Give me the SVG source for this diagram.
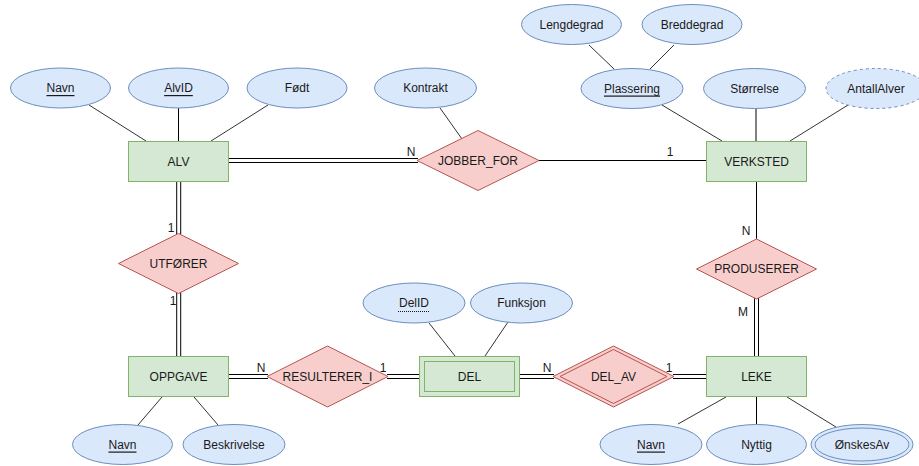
<svg xmlns="http://www.w3.org/2000/svg" width="919" height="466" viewBox="0 0 919 466">
<style>
.ent{fill:#d5e8d4;stroke:#82b366;stroke-width:1}
.attr{fill:#dae8fc;stroke:#6c8ebf;stroke-width:1}
.rel{fill:#f8cecc;stroke:#b85450;stroke-width:1}
.ln{stroke:#000;stroke-width:1;fill:none}
.al{stroke:#333;stroke-width:1;fill:none}
.dbo{stroke:#000;stroke-width:5;fill:none}
.dbi{stroke:#fff;stroke-width:3;fill:none}
text{font-family:"Liberation Sans",Arial,sans-serif;font-size:12px;fill:#1a1a1a;text-anchor:middle;dominant-baseline:central}
.ul{text-decoration:underline}
</style>
<rect width="919" height="466" fill="#fff"/>
<g id="connectors">
<line class="al" x1="89" y1="105" x2="146" y2="141"/>
<line class="ln" x1="178.5" y1="108" x2="178.5" y2="141"/>
<line class="al" x1="268" y1="105" x2="211" y2="141"/>
<line class="al" x1="440" y1="108" x2="462" y2="139"/>
<line class="al" x1="589" y1="45" x2="614" y2="69"/>
<line class="al" x1="674" y1="45" x2="650" y2="69"/>
<line class="al" x1="662" y1="105" x2="722" y2="141"/>
<line class="ln" x1="756" y1="108" x2="756" y2="141"/>
<line class="al" x1="848" y1="105" x2="790" y2="141"/>
<line class="ln" x1="539" y1="160.5" x2="706" y2="160.5"/>
<line class="dbo" x1="229" y1="160.5" x2="418" y2="160.5"/>
<line class="dbi" x1="228" y1="160.5" x2="419" y2="160.5"/>
<line class="dbo" x1="178.7" y1="182" x2="178.7" y2="234"/>
<line class="dbi" x1="178.7" y1="181" x2="178.7" y2="236"/>
<line class="dbo" x1="178.7" y1="293" x2="178.7" y2="356"/>
<line class="dbi" x1="178.7" y1="291" x2="178.7" y2="357"/>
<line class="ln" x1="756.5" y1="182" x2="756.5" y2="239"/>
<line class="dbo" x1="756.5" y1="298" x2="756.5" y2="356"/>
<line class="dbi" x1="756.5" y1="296" x2="756.5" y2="357"/>
<line class="dbo" x1="229" y1="376.5" x2="268" y2="376.5"/>
<line class="dbi" x1="228" y1="376.5" x2="270" y2="376.5"/>
<line class="dbo" x1="387" y1="376.5" x2="419" y2="376.5"/>
<line class="dbi" x1="385" y1="376.5" x2="420" y2="376.5"/>
<line class="dbo" x1="520" y1="376.5" x2="554" y2="376.5"/>
<line class="dbi" x1="519" y1="376.5" x2="556" y2="376.5"/>
<line class="dbo" x1="673" y1="376.5" x2="706" y2="376.5"/>
<line class="dbi" x1="671" y1="376.5" x2="707" y2="376.5"/>
<line class="al" x1="429" y1="323" x2="455" y2="356"/>
<line class="al" x1="508" y1="322" x2="485" y2="356"/>
<line class="al" x1="138" y1="425" x2="162" y2="397"/>
<line class="al" x1="218" y1="425" x2="194" y2="397"/>
<line class="al" x1="678" y1="424" x2="726" y2="397"/>
<line class="ln" x1="756.5" y1="424" x2="756.5" y2="397"/>
<line class="al" x1="836" y1="427" x2="787" y2="397"/>
<text x="411" y="152">N</text>
<text x="670" y="152">1</text>
<text x="171" y="228">1</text>
<text x="173" y="301">1</text>
<text x="746" y="231">N</text>
<text x="743" y="312">M</text>
<text x="261" y="368">N</text>
<text x="383" y="368">1</text>
<text x="547" y="368">N</text>
<text x="669" y="368">1</text>
</g>
<g id="ALV"><rect class="ent" x="128.5" y="141.5" width="100" height="40"/><text x="178.5" y="161.5">ALV</text></g>
<g id="VERKSTED"><rect class="ent" x="706.5" y="141.5" width="100" height="40"/><text x="756.5" y="161.5">VERKSTED</text></g>
<g id="OPPGAVE"><rect class="ent" x="128.5" y="356.5" width="100" height="40"/><text x="178.5" y="376.5">OPPGAVE</text></g>
<g id="DEL"><rect class="ent" x="419.5" y="356.5" width="100" height="40"/><rect class="ent" x="424.5" y="361.5" width="90" height="30"/><text x="469.5" y="376.5">DEL</text></g>
<g id="LEKE"><rect class="ent" x="706.5" y="356.5" width="100" height="40"/><text x="756.5" y="376.5">LEKE</text></g>
<g id="JOBBER_FOR"><polygon class="rel" points="417,160.5 478,130.5 539,160.5 478,190.5"/><text x="478" y="160.5">JOBBER_FOR</text></g>
<g id="UTFORER"><polygon class="rel" points="118.5,263.5 178.5,233.5 238.5,263.5 178.5,293.5"/><text x="178.5" y="263.5">UTFØRER</text></g>
<g id="PRODUSERER"><polygon class="rel" points="696.5,269 756.5,239 816.5,269 756.5,299"/><text x="756.5" y="269">PRODUSERER</text></g>
<g id="RESULTERER_I"><polygon class="rel" points="267,376.5 327.5,346 388,376.5 327.5,407"/><text x="327.5" y="376.5">RESULTERER_I</text></g>
<g id="DEL_AV"><polygon class="rel" points="553,376.5 613.5,346 674,376.5 613.5,407"/><polygon class="rel" points="560,376.5 613.5,349.5 667,376.5 613.5,403.5"/><text x="613.5" y="376.5">DEL_AV</text></g>
<g id="Navn_ALV"><ellipse class="attr" cx="60.5" cy="88" rx="50" ry="20"/><text class="ul" x="60.5" y="88">Navn</text></g>
<g id="AlvID"><ellipse class="attr" cx="178.5" cy="88" rx="50" ry="20"/><text class="ul" x="178.5" y="88">AlvID</text></g>
<g id="Fodt"><ellipse class="attr" cx="297" cy="88" rx="50" ry="20"/><text x="297" y="88">Født</text></g>
<g id="Kontrakt"><ellipse class="attr" cx="425.5" cy="88" rx="51" ry="20"/><text x="425.5" y="88">Kontrakt</text></g>
<g id="Lengdegrad"><ellipse class="attr" cx="571.5" cy="24.5" rx="50" ry="20"/><text x="571.5" y="24.5">Lengdegrad</text></g>
<g id="Breddegrad"><ellipse class="attr" cx="692" cy="24.5" rx="50" ry="20"/><text x="692" y="24.5">Breddegrad</text></g>
<g id="Plassering"><ellipse class="attr" cx="632" cy="88.5" rx="51" ry="20"/><text class="ul" x="632" y="88.5">Plassering</text></g>
<g id="Storrelse"><ellipse class="attr" cx="754.5" cy="88.5" rx="51" ry="20"/><text x="754.5" y="88.5">Størrelse</text></g>
<g id="AntallAlver"><ellipse class="attr" cx="876" cy="88.5" rx="50" ry="20" stroke-dasharray="3,3"/><text x="876" y="88.5">AntallAlver</text></g>
<g id="DelID"><ellipse class="attr" cx="414" cy="303" rx="51" ry="20"/><text x="414" y="303">DelID</text><line x1="398" y1="311.5" x2="430" y2="311.5" stroke="#1a1a1a" stroke-width="1" stroke-dasharray="1,1"/></g>
<g id="Funksjon"><ellipse class="attr" cx="521.5" cy="303" rx="51" ry="20"/><text x="521.5" y="303">Funksjon</text></g>
<g id="Navn_OPPGAVE"><ellipse class="attr" cx="122.5" cy="444.5" rx="50" ry="20"/><text class="ul" x="122.5" y="444.5">Navn</text></g>
<g id="Beskrivelse"><ellipse class="attr" cx="234" cy="444.5" rx="51" ry="20"/><text x="234" y="444.5">Beskrivelse</text></g>
<g id="Navn_LEKE"><ellipse class="attr" cx="651" cy="444.5" rx="51" ry="20"/><text class="ul" x="651" y="444.5">Navn</text></g>
<g id="Nyttig"><ellipse class="attr" cx="756.5" cy="444.5" rx="50" ry="20"/><text x="756.5" y="444.5">Nyttig</text></g>
<g id="OnskesAv"><ellipse class="attr" cx="862" cy="444.5" rx="51" ry="20"/><ellipse class="attr" cx="862" cy="444.5" rx="47" ry="16.5"/><text x="862" y="444.5">ØnskesAv</text></g>
</svg>
